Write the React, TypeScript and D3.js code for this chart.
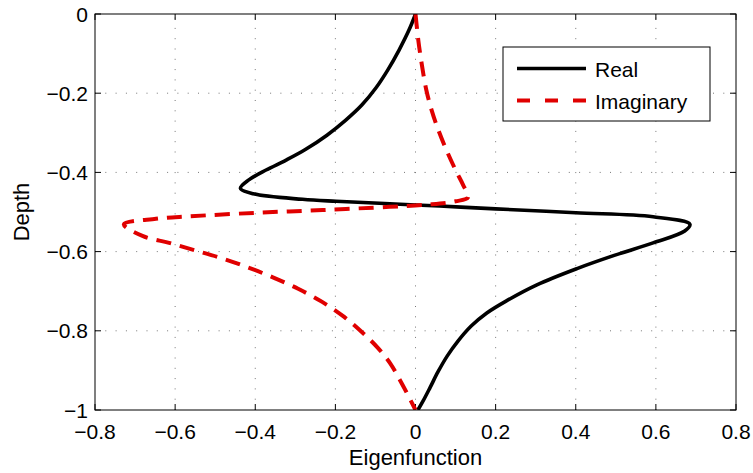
import React from "react";
import * as d3 from "d3";

const xTicks = [-0.8, -0.6, -0.4, -0.2, 0, 0.2, 0.4, 0.6, 0.8];
const yTicks = [0, -0.2, -0.4, -0.6, -0.8, -1];
const xTickLabels = ["\u22120.8", "\u22120.6", "\u22120.4", "\u22120.2", "0", "0.2", "0.4", "0.6", "0.8"];
const yTickLabels = ["0", "\u22120.2", "\u22120.4", "\u22120.6", "\u22120.8", "\u22121"];

const realX = [0, -0.016, -0.041, -0.069, -0.099, -0.134, -0.174, -0.221, -0.276, -0.323, -0.373, -0.416, -0.437, -0.405, -0.282, -0.198, -0.09, 0.06, 0.2, 0.4, 0.593, 0.685, 0.672, 0.593, 0.498, 0.403, 0.303, 0.226, 0.178, 0.139, 0.106, 0.079, 0.056, 0.036, 0.019, 0.006];
const realDepth = [0, -0.04, -0.091, -0.141, -0.187, -0.23, -0.268, -0.306, -0.343, -0.369, -0.394, -0.419, -0.44, -0.454, -0.468, -0.473, -0.478, -0.485, -0.492, -0.502, -0.512, -0.531, -0.548, -0.578, -0.609, -0.643, -0.684, -0.725, -0.755, -0.788, -0.826, -0.864, -0.904, -0.944, -0.977, -1];

const imagX = [0, 0.007, 0.016, 0.027, 0.04, 0.057, 0.077, 0.1, 0.119, 0.131, 0.1, 0.035, -0.065, -0.232, -0.398, -0.565, -0.648, -0.728, -0.68, -0.615, -0.55, -0.483, -0.418, -0.356, -0.293, -0.233, -0.178, -0.134, -0.094, -0.064, -0.039, -0.019, 0];
const imagDepth = [0, -0.066, -0.129, -0.192, -0.242, -0.293, -0.343, -0.394, -0.432, -0.463, -0.473, -0.481, -0.487, -0.495, -0.502, -0.511, -0.517, -0.531, -0.561, -0.578, -0.597, -0.617, -0.64, -0.665, -0.694, -0.727, -0.765, -0.803, -0.843, -0.881, -0.924, -0.962, -1];

const seriesNames = ["Real", "Imaginary"];

export default function App() {
  const W = 753, H = 473;
  const L = 95, R = 736, T = 14, B = 410;
  const x = d3.scaleLinear().domain([-0.8, 0.8]).range([L, R]);
  const y = d3.scaleLinear().domain([-1, 0]).range([B, T]);
  const line = d3
    .line<[number, number]>()
    .x((d) => x(d[0]))
    .y((d) => y(d[1]))
    .curve(d3.curveCatmullRom.alpha(0.5));
  const realPts: [number, number][] = realX.map((v, i) => [v, realDepth[i]]);
  const imagPts: [number, number][] = imagX.map((v, i) => [v, imagDepth[i]]);
  const font = "'Liberation Sans', Arial, Helvetica, sans-serif";
  const tk = 6;

  return (
    <svg width={W} height={H} style={{ position: "absolute", left: 0, top: 0, background: "#fff" }}>
      <defs>
        <clipPath id="plotclip">
          <rect x={L} y={T} width={R - L} height={B - T} />
        </clipPath>
      </defs>
      <rect x={0} y={0} width={W} height={H} fill="#fff" />
      {xTicks.slice(1, -1).map((t) => (
        <line key={"gx" + t} x1={x(t)} x2={x(t)} y1={B} y2={T} stroke="#777" strokeWidth={1} strokeDasharray="1 9.3" />
      ))}
      {yTicks.slice(1, -1).map((t) => (
        <line key={"gy" + t} x1={L} x2={R} y1={y(t)} y2={y(t)} stroke="#777" strokeWidth={1} strokeDasharray="1 9.3" />
      ))}
      {xTicks.map((t) => (
        <g key={"tx" + t}>
          <line x1={x(t)} x2={x(t)} y1={B} y2={B - tk} stroke="#000" />
          <line x1={x(t)} x2={x(t)} y1={T} y2={T + tk} stroke="#000" />
        </g>
      ))}
      {yTicks.map((t) => (
        <g key={"ty" + t}>
          <line x1={L} x2={L + tk} y1={y(t)} y2={y(t)} stroke="#000" />
          <line x1={R} x2={R - tk} y1={y(t)} y2={y(t)} stroke="#000" />
        </g>
      ))}
      <g clipPath="url(#plotclip)">
        <path d={line(realPts) || ""} fill="none" stroke="#000" strokeWidth={3.6} strokeLinejoin="round" />
        <path d={line(imagPts) || ""} fill="none" stroke="#e00000" strokeWidth={4} strokeDasharray="15 9" />
      </g>
      <rect x={L} y={T} width={R - L} height={B - T} fill="none" stroke="#000" strokeWidth={1} />
      {xTicks.map((t, i) => (
        <text key={"lx" + t} x={x(t)} y={439} textAnchor="middle" fontFamily={font} fontSize={21} fill="#000">
          {xTickLabels[i]}
        </text>
      ))}
      {yTicks.map((t, i) => (
        <text key={"ly" + t} x={88} y={y(t) + 7.5} textAnchor="end" fontFamily={font} fontSize={21} fill="#000">
          {yTickLabels[i]}
        </text>
      ))}
      <text x={x(0)} y={465} textAnchor="middle" fontFamily={font} fontSize={22} fill="#000">
        Eigenfunction
      </text>
      <text transform={`translate(29,${(T + B) / 2}) rotate(-90)`} textAnchor="middle" fontFamily={font} fontSize={22} fill="#000">
        Depth
      </text>
      <rect x={503} y={47} width={207} height={74} fill="#fff" stroke="#000" strokeWidth={1} />
      <line x1={517} x2={586} y1={68.5} y2={68.5} stroke="#000" strokeWidth={3.6} />
      <line x1={517} x2={586} y1={100.5} y2={100.5} stroke="#e00000" strokeWidth={4} strokeDasharray="13 15" />
      <text x={595} y={76.7} fontFamily={font} fontSize={21} fill="#000">{seriesNames[0]}</text>
      <text x={595} y={108.5} fontFamily={font} fontSize={21} fill="#000">{seriesNames[1]}</text>
    </svg>
  );
}
